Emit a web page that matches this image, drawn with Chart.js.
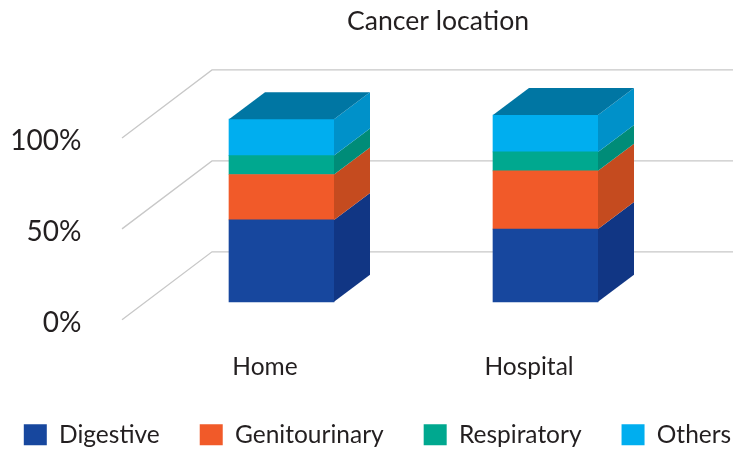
<!DOCTYPE html>
<html>
<head>
<meta charset="utf-8">
<title>Cancer location</title>
<script src="https://cdn.jsdelivr.net/npm/chart.js@4/dist/chart.umd.min.js"></script>
<style>
  html, body { margin: 0; padding: 0; background: #fff; }
  #wrap { width: 733px; height: 450px; }
</style>
</head>
<body>
<div id="wrap"><canvas id="chart" width="733" height="450"></canvas></div>
<script>
const categories = ['Home', 'Hospital'];
const seriesNames = ['Digestive', 'Genitourinary', 'Respiratory', 'Others'];
const digestive = [45, 40];
const genitourinary = [25, 32];
const respiratory = [10.4, 10.4];
const others = [20, 20.3];
const yTicks = [0, 50, 100];

const frontColors = ['#17479e', '#f15a29', '#00a88f', '#00aeef'];
const sideColors = ['#113684', '#c54b1f', '#008c78', '#0091c9'];
const topColor = '#0076a3';
const gridColor = '#c8c8c8';
const textColor = '#231f20';
const fontName = "Lato, 'Open Sans', sans-serif";

// fake 3D: bars sit on a plane between the front and back edge of the floor
const wall = { frontX: -27.5, frontY: 18, backX: 62.5, backY: -50 };
const depth = { x: 36, y: -27 };
const titleShift = 60.5;

function poly(ctx, pts, color) {
    ctx.fillStyle = color;
    ctx.beginPath();
    pts.forEach((p, i) => i ? ctx.lineTo(p[0], p[1]) : ctx.moveTo(p[0], p[1]));
    ctx.closePath();
    ctx.fill();
}

// title is not centred on the canvas in the original
const moveTitle = {
    id: 'moveTitle',
    afterLayout(chart) {
        chart.titleBlock.left += titleShift;
        chart.titleBlock.right += titleShift;
    }
};

const walls3d = {
    id: 'walls3d',
    beforeDatasetsDraw(chart) {
        const { ctx, chartArea, scales } = chart;
        ctx.save();
        ctx.strokeStyle = gridColor;
        ctx.lineWidth = 1.3;
        scales.y.ticks.forEach(t => {
            const y = scales.y.getPixelForValue(t.value);
            ctx.beginPath();
            ctx.moveTo(chartArea.left + wall.frontX, y + wall.frontY);
            ctx.lineTo(chartArea.left + wall.backX, y + wall.backY);
            ctx.lineTo(chart.width, y + wall.backY);
            ctx.stroke();
        });
        ctx.restore();
    }
};

const bars3d = {
    id: 'bars3d',
    afterDatasetsDraw(chart) {
        const ctx = chart.ctx;
        const last = chart.data.datasets.length - 1;
        ctx.save();
        chart.data.datasets.forEach((ds, i) => {
            chart.getDatasetMeta(i).data.forEach(bar => {
                const right = bar.x + bar.width / 2;
                const left = bar.x - bar.width / 2;
                poly(ctx, [
                    [right, bar.base], [right + depth.x, bar.base + depth.y],
                    [right + depth.x, bar.y + depth.y], [right, bar.y]
                ], sideColors[i]);
                if (i === last) {
                    poly(ctx, [
                        [left, bar.y], [left + depth.x, bar.y + depth.y],
                        [right + depth.x, bar.y + depth.y], [right, bar.y]
                    ], topColor);
                }
            });
        });
        ctx.restore();
    }
};

new Chart(document.getElementById('chart'), {
    type: 'bar',
    data: {
        labels: categories,
        datasets: [digestive, genitourinary, respiratory, others].map((values, i) => ({
            label: seriesNames[i],
            data: values,
            backgroundColor: frontColors[i],
            clip: false
        }))
    },
    plugins: [moveTitle, walls3d, bars3d],
    options: {
        responsive: false,
        animation: false,
        barThickness: 105,
        // negative sides: the legend row with its wide gaps needs more than the canvas width
        layout: { padding: { left: -25, right: -47, top: 0, bottom: -7 } },
        plugins: {
            title: {
                display: true,
                text: 'Cancer location',
                color: textColor,
                font: { family: fontName, size: 26.6, weight: 'normal' },
                padding: { top: 5, bottom: 83 }
            },
            legend: {
                position: 'bottom',
                labels: {
                    boxWidth: 23,
                    boxHeight: 21,
                    padding: 40,
                    color: textColor,
                    font: { family: fontName, size: 24.5 }
                }
            },
            tooltip: { enabled: false }
        },
        scales: {
            x: {
                stacked: true,
                grid: { display: false, drawTicks: false },
                border: { display: false },
                afterFit: s => { s.height = 80.7; },
                ticks: {
                    color: textColor,
                    padding: 51,
                    labelOffset: -16.5,
                    maxRotation: 0,
                    font: { family: fontName, size: 24.5 }
                }
            },
            y: {
                stacked: true,
                min: 0,
                max: 100,
                grid: { display: false, drawTicks: false },
                border: { display: false },
                afterBuildTicks: s => { s.ticks = yTicks.map(v => ({ value: v })); },
                afterFit: s => { s.width = 174.5; },
                ticks: {
                    color: textColor,
                    padding: 68,
                    labelOffset: 21,
                    callback: v => v + '%',
                    font: { family: fontName, size: 28 }
                }
            },
            // empty axis, only keeps the plot away from the right edge
            spacer: {
                position: 'right',
                grid: { display: false, drawTicks: false },
                border: { display: false },
                ticks: { display: false },
                afterFit: s => { s.width = 102.5; }
            }
        }
    }
});
</script>
</body>
</html>
